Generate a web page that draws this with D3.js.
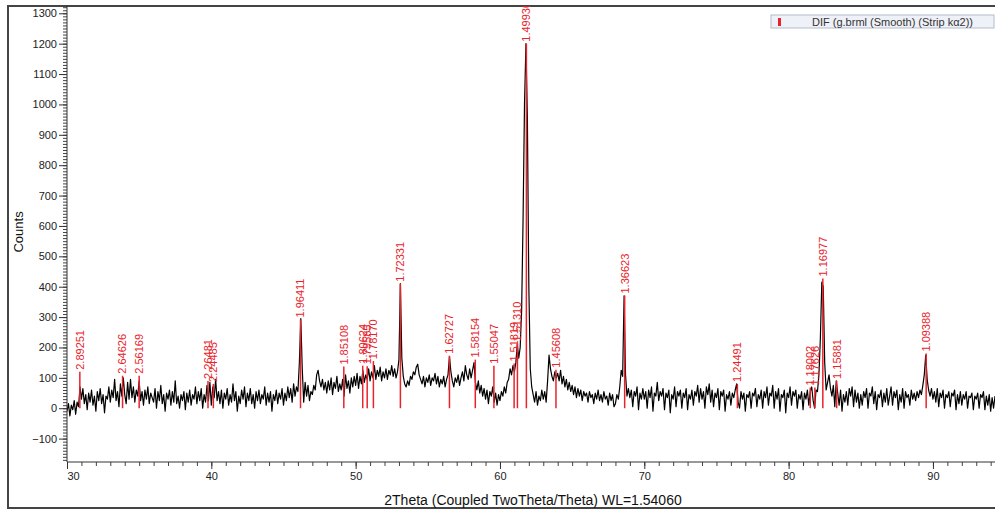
<!DOCTYPE html>
<html>
<head>
<meta charset="utf-8">
<script src="https://cdn.jsdelivr.net/npm/d3@7"></script>
<style>
  body { margin: 0; background: #fff; }
  svg { display: block; font-family: "Liberation Sans", Arial, sans-serif; }
</style>
</head>
<body>
<svg width="995" height="510"></svg>
<script>
// scan: first angle and step (2theta, degrees)
var thetaStart = 30.0;
var thetaStep = 0.1;

// counts, one row per degree
var counts = [
  -10, 15, -25, 10, -5, 25, -20, 20, 5, 70,        // 30
  30, 65, 15, 45, -5, 50, 20, 60, 10, 40,          // 31
  -10, 55, 25, 65, 15, 45, -15, 40, 30, 70,        // 32
  20, 60, 35, 95, 25, 55, 5, 80, 40, 100,          // 33
  45, 15, 85, 30, 95, 35, 70, 20, 60, 40,          // 34
  90, 25, 55, 10, 60, 30, 70, 15, 50, 35,          // 35
  20, 65, 0, 55, 25, 75, 15, 45, -10, 50,          // 36
  30, 60, 10, 55, 20, 90, 15, 40, 0, 45,           // 37
  25, 55, -5, 50, 20, 60, 10, 45, 30, 70,          // 38
  15, 55, 25, 65, 0, 45, 20, 75, 25, 85,           // 39
  10, 70, 35, 95, 25, 55, 15, 60, 0, 50,           // 40
  30, 65, 10, 45, 20, 80, 25, 55, -10, 40,         // 41
  15, 60, 30, 70, 5, 50, 25, 65, 15, 45,           // 42
  0, 55, 25, 60, 15, 45, 30, 70, 10, 50,           // 43
  20, 55, -10, 45, 25, 60, 15, 50, 30, 65,         // 44
  10, 50, 25, 70, 35, 65, 20, 80, 40, 70,          // 45
  55, 150, 295, 130, 20, 85, 40, 75, 25, 55,       // 46
  45, 75, 60, 110, 125, 90, 70, 95, 60, 85,        // 47
  50, 90, 60, 100, 45, 85, 65, 105, 55, 80,        // 48
  60, 95, 40, 110, 65, 90, 50, 100, 70, 105,       // 49
  75, 115, 65, 105, 80, 125, 85, 110, 95, 130,     // 50
  90, 120, 100, 140, 95, 125, 105, 135, 90, 120,   // 51
  100, 130, 95, 125, 110, 140, 105, 130, 100, 120, // 52
  160, 410, 165, 105, 80, 70, 90, 75, 105, 95,     // 53
  120, 110, 135, 145, 110, 95, 80, 105, 70, 100,   // 54
  85, 110, 75, 100, 90, 115, 80, 105, 70, 95,      // 55
  80, 105, 70, 95, 110, 170, 120, 90, 70, 100,     // 56
  85, 110, 75, 100, 120, 90, 140, 110, 95, 130,    // 57
  100, 125, 150, 85, 60, 90, 50, 75, 40, 65,       // 58
  30, 60, 15, 55, 40, 70, 20, 50, 10, 45,          // 59
  25, 55, 40, 70, 50, 85, 95, 130, 110, 140,       // 60
  120, 150, 210, 165, 200, 320, 620, 1000, 1200, 950, // 61
  400, 130, 70, 45, 20, 55, 10, 40, 25, 60,        // 62
  30, 55, 20, 90, 175, 130, 105, 90, 120, 100,     // 63
  115, 90, 125, 80, 105, 70, 95, 60, 85, 55,       // 64
  75, 45, 70, 35, 65, 40, 60, 25, 55, 40,          // 65
  50, 20, 55, 35, 45, 15, 50, 30, 60, 25,          // 66
  45, 20, 55, 30, 40, 10, 50, 25, 45, 5,           // 67
  15, 45, 30, 70, 125, 105, 370, 110, 40, 65,      // 68
  35, 60, 5, 55, 40, 70, -5, 50, 30, 65,           // 69
  30, 55, 0, 60, 35, 70, -10, 50, 40, 85,          // 70
  25, 55, 40, 65, -5, 50, 35, 60, -15, 45,         // 71
  30, 70, 5, 55, 40, 60, 0, 50, 35, 65,            // 72
  -5, 45, 30, 60, 10, 55, 40, 75, 20, 65,          // 73
  30, 55, 0, 70, 45, 80, 20, 60, 5, 50,            // 74
  35, 65, -5, 55, 40, 60, -10, 45, 30, 55,         // 75
  10, 50, 35, 60, 80, 20, 0, 55, 30, 50,           // 76
  -10, 45, 35, 55, 0, 50, 40, 65, 5, 45,           // 77
  30, 60, 0, 55, 35, 70, 10, 50, 40, 75,           // 78
  0, 55, 30, 65, -10, 45, 35, 60, -15, 50,         // 79
  35, 70, 10, 55, 40, 60, 0, 45, 30, 55,           // 80
  -5, 50, 30, 60, 10, 55, 70, 25, 0, 60,           // 81
  55, 110, 230, 415, 400, 150, 60, 85, 110, 65,    // 82
  40, 75, 5, 90, 50, 10, 60, -10, 45, 20,          // 83
  55, 10, 65, 40, 70, 5, 60, 20, 50, 0,            // 84
  45, 10, 55, 35, 65, 0, 50, 40, 70, 15,           // 85
  55, -5, 45, 35, 60, 5, 50, 20, 65, 10,           // 86
  40, 70, 10, 55, 35, 60, -5, 45, 20, 65,          // 87
  0, 55, 35, 45, 10, 60, 30, 50, 25, 55,           // 88
  35, 60, 45, 75, 110, 175, 95, 60, 40, 65,        // 89
  30, 55, 20, 65, 5, 50, 35, 60, 0, 45,            // 90
  35, 55, 5, 50, 40, 60, -5, 45, 15, 55,           // 91
  10, 45, 30, 55, 0, 40, 35, 50, -5, 40,           // 92
  30, 50, 0, 45, 35, 55, -5, 40, 10, 45,           // 93
  -10, 35, 0, 40                                   // 94
];

// reference peaks (d-spacing labels), 2theta position and stick height
var peakLabels = ["2.89251","2.64626","2.56169","2.26481","2.24485","1.96411","1.85108",
  "1.80624","1.79585","1.78170","1.72331","1.62727","1.58154","1.55047","1.51819",
  "1.51310","1.49930","1.45608","1.36623","1.24491","1.18002","1.17626","1.16977",
  "1.15881","1.09388"];
var peakAngles = [30.89, 33.85, 35.00, 39.77, 40.14, 46.18, 49.18, 50.49, 50.80, 51.23,
  53.10, 56.50, 58.29, 59.58, 60.98, 61.21, 61.83, 63.88, 68.64, 76.45, 81.50, 81.82,
  82.37, 83.33, 89.53];
var peakHeights = [120, 107, 107, 90, 80, 292, 137, 140, 138, 155, 410, 173, 160, 140,
  147, 213, 1200, 127, 371, 80, 68, 68, 427, 90, 180];

var xTicks = [30, 40, 50, 60, 70, 80, 90];
var yTicks = [-100, 0, 100, 200, 300, 400, 500, 600, 700, 800, 900, 1000, 1100, 1200, 1300];
var legendText = "DIF (g.brml (Smooth) (Strip kα2))";

var svg = d3.select("svg");
var plotLeft = 67, plotRight = 995, plotTop = 6, plotBottom = 462;

var x = d3.scaleLinear().domain([30, 94.3]).range([plotLeft, plotRight]);
var y = d3.scaleLinear().domain([-177, 1324]).range([plotBottom, plotTop]);

// outer frame
svg.append("rect")
  .attr("x", 8).attr("y", 6).attr("width", 1000).attr("height", 502)
  .attr("fill", "none").attr("stroke", "#444").attr("stroke-width", 2);

svg.append("clipPath").attr("id", "plot")
  .append("rect").attr("x", plotLeft).attr("y", plotTop)
  .attr("width", plotRight - plotLeft).attr("height", plotBottom - plotTop);

var g = svg.append("g").attr("clip-path", "url(#plot)");

// measured trace
var line = d3.line()
  .x(function(d, i) { return x(thetaStart + i * thetaStep); })
  .y(function(d) { return y(d); });

g.append("path")
  .datum(counts)
  .attr("fill", "none")
  .attr("stroke", "#000")
  .attr("stroke-width", 1.2)
  .attr("stroke-linejoin", "round")
  .attr("d", line);

// reference sticks
g.selectAll("line.stick")
  .data(peakAngles)
  .enter().append("line")
  .attr("class", "stick")
  .attr("x1", function(d) { return x(d); })
  .attr("x2", function(d) { return x(d); })
  .attr("y1", y(0))
  .attr("y2", function(d, i) { return y(peakHeights[i]); })
  .attr("stroke", "#e8232b")
  .attr("stroke-width", 1.5);

g.selectAll("text.peak")
  .data(peakAngles)
  .enter().append("text")
  .attr("class", "peak")
  .attr("transform", function(d, i) {
    return "translate(" + x(d) + "," + (y(peakHeights[i]) - 2) + ") rotate(-90)";
  })
  .attr("dy", "0.35em")
  .attr("fill", "#e8232b")
  .style("font-size", "11px")
  .text(function(d, i) { return peakLabels[i]; });

// y axis
var yMinor = d3.range(-170, 1330, 10);
svg.append("g")
  .attr("transform", "translate(" + plotLeft + ",0)")
  .call(d3.axisLeft(y).tickValues(yMinor).tickSize(4).tickSizeOuter(0).tickFormat(""))
  .call(function(a) { a.select(".domain").remove(); })
  .selectAll("line").attr("stroke", "#444");

var yAxis = svg.append("g")
  .attr("transform", "translate(" + plotLeft + ",0)")
  .call(d3.axisLeft(y).tickValues(yTicks).tickSize(8).tickSizeOuter(0).tickPadding(2)
    .tickFormat(d3.format("d")));
yAxis.select(".domain").attr("stroke", "#333").attr("d", "M0," + plotTop + "V" + plotBottom);
yAxis.selectAll("line").attr("stroke", "#333");
yAxis.selectAll("text").attr("fill", "#222").style("font-size", "11px")
  .style("font-family", "Liberation Sans, Arial, sans-serif");

// x axis
var xMinor = d3.range(31, 95, 1);
svg.append("g")
  .attr("transform", "translate(0," + plotBottom + ")")
  .call(d3.axisBottom(x).tickValues(xMinor).tickSize(4).tickSizeOuter(0).tickFormat(""))
  .call(function(a) { a.select(".domain").remove(); })
  .selectAll("line").attr("stroke", "#444");

var xAxis = svg.append("g")
  .attr("transform", "translate(0," + plotBottom + ")")
  .call(d3.axisBottom(x).tickValues(xTicks).tickSize(7).tickSizeOuter(0).tickPadding(3));
xAxis.select(".domain").attr("stroke", "#333").attr("d", "M" + plotLeft + ",0H" + plotRight);
xAxis.selectAll("line").attr("stroke", "#333");
xAxis.selectAll("text").attr("fill", "#222").style("font-size", "11px")
  .style("font-family", "Liberation Sans, Arial, sans-serif")
  .attr("text-anchor", function(d) { return d === 30 ? "start" : "middle"; });

// axis titles
svg.append("text")
  .attr("transform", "translate(23," + (y(600) + 6) + ") rotate(-90)")
  .attr("text-anchor", "middle")
  .attr("fill", "#111")
  .style("font-size", "13px")
  .text("Counts");

svg.append("text")
  .attr("x", 533).attr("y", 505)
  .attr("text-anchor", "middle")
  .attr("fill", "#111")
  .style("font-size", "14px")
  .text("2Theta (Coupled TwoTheta/Theta) WL=1.54060");

// legend
var lg = svg.append("g").attr("transform", "translate(771,15)");
lg.append("rect").attr("width", 223).attr("height", 13)
  .attr("fill", "#eef1f7").attr("stroke", "#b4bccb");
lg.append("rect").attr("x", 7).attr("y", 3).attr("width", 3).attr("height", 8).attr("fill", "#e8232b");
lg.append("text").attr("x", 41).attr("y", 10.5)
  .attr("fill", "#333").style("font-size", "11px")
  .text(legendText);
</script>
</body>
</html>
